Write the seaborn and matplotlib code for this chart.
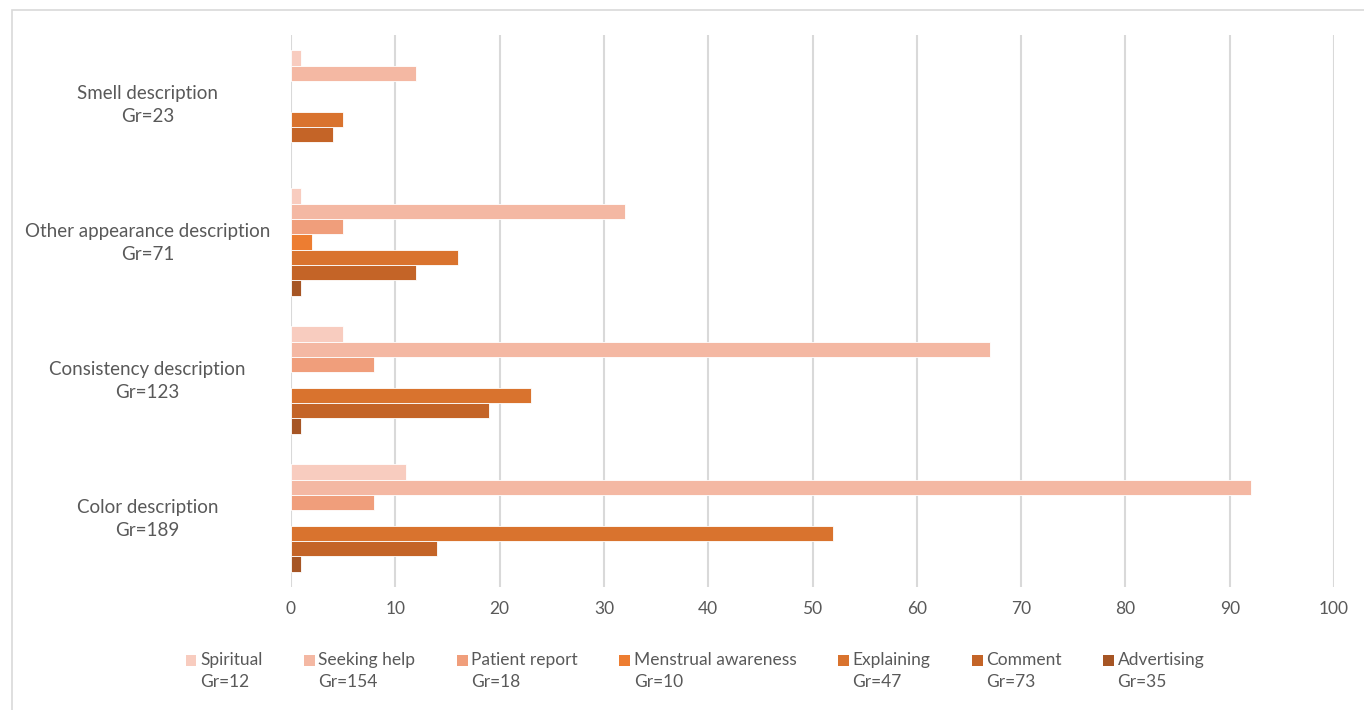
import matplotlib
matplotlib.use("Agg")
import matplotlib.pyplot as plt
import matplotlib.transforms as mtransforms
import seaborn as sns
import pandas as pd
from matplotlib.patches import Rectangle, Patch
from matplotlib.legend_handler import HandlerPatch

categories = ["Smell description\nGr=23",
              "Other appearance description\nGr=71",
              "Consistency description\nGr=123",
              "Color description\nGr=189"]
series = ["Spiritual\nGr=12", "Seeking help\nGr=154", "Patient report\nGr=18",
          "Menstrual awareness\nGr=10", "Explaining\nGr=47", "Comment\nGr=73",
          "Advertising\nGr=35"]
spiritual = [1, 1, 5, 11]
seeking_help = [12, 32, 67, 92]
patient_report = [0, 5, 8, 8]
menstrual_awareness = [0, 2, 0, 0]
explaining = [5, 16, 23, 52]
comment = [4, 12, 19, 14]
advertising = [0, 1, 1, 1]
x_ticks = list(range(0, 101, 10))

colors = ["#F8CCBF", "#F4B8A3", "#F09E7B", "#ED7D31", "#D9732E", "#C46427", "#A65524"]

values = [spiritual, seeking_help, patient_report, menstrual_awareness,
          explaining, comment, advertising]
rows = []
for name, vals in zip(series, values):
    for cat, v in zip(categories, vals):
        rows.append({"category": cat, "series": name, "value": v})
df = pd.DataFrame(rows)

sns.set_theme(style="white")
plt.rcParams["font.family"] = ["Lato", "DejaVu Sans"]
text_color = "#595959"

fig = plt.figure(figsize=(13.64, 7.10), dpi=100)
ax = fig.add_axes([291 / 1364, 1 - 587 / 710, (1334 - 291) / 1364, (587 - 35) / 710])

sns.barplot(data=df, y="category", x="value", hue="series", order=categories,
            hue_order=series, palette=colors, orient="h", width=0.78,
            edgecolor="white", linewidth=0.6, saturation=1, ax=ax, zorder=2,
            legend=False)

for p in ax.patches:
    if p.get_width() == 0:
        p.set_visible(False)

ax.set_xlim(0, 100)
ax.set_ylim(3.5, -0.5)
ax.set_xticks(x_ticks)
ax.set_xticklabels([str(t) for t in x_ticks])
ax.grid(axis="x", color="#D9D9D9", linewidth=1.5, zorder=0)
ax.grid(axis="y", visible=False)
for s in ax.spines.values():
    s.set_visible(False)
ax.tick_params(axis="x", length=0, labelsize=12.5, labelcolor=text_color, pad=10)
ax.tick_params(axis="y", length=0, labelsize=13.5, labelcolor=text_color)
lift = mtransforms.ScaledTranslation(0, 3.5 / 100, fig.dpi_scale_trans)
for lbl in ax.get_yticklabels():
    lbl.set_horizontalalignment("center")
    lbl.set_multialignment("center")
    lbl.set_linespacing(1.45)
    lbl.set_x(-0.133)
    lbl.set_transform(lbl.get_transform() + lift)
ax.set_xlabel("")
ax.set_ylabel("")


def square_on_first_line(legend, orig_handle, xdescent, ydescent, width, height, fontsize):
    return Rectangle((-xdescent, -ydescent + 0.62 * fontsize), width, height)


handles = [Patch(facecolor=c, edgecolor="none") for c in colors]
leg = fig.legend(handles, series, loc="center", bbox_to_anchor=(695 / 1364, 1 - 671 / 710),
                 ncol=7, frameon=False, fontsize=12.5, labelcolor=text_color,
                 handlelength=0.62, handleheight=0.62, handletextpad=0.2,
                 columnspacing=2.4,
                 handler_map={Patch: HandlerPatch(patch_func=square_on_first_line)})
for t in leg.get_texts():
    t.set_linespacing(1.45)

fig.patches.append(Rectangle((12 / 1364, -0.1), 1.2, 1 - 10 / 710 + 0.1,
                             transform=fig.transFigure, fill=False,
                             edgecolor="#D9D9D9", linewidth=1.2))

fig.savefig("out.png", dpi=100, facecolor="white")
